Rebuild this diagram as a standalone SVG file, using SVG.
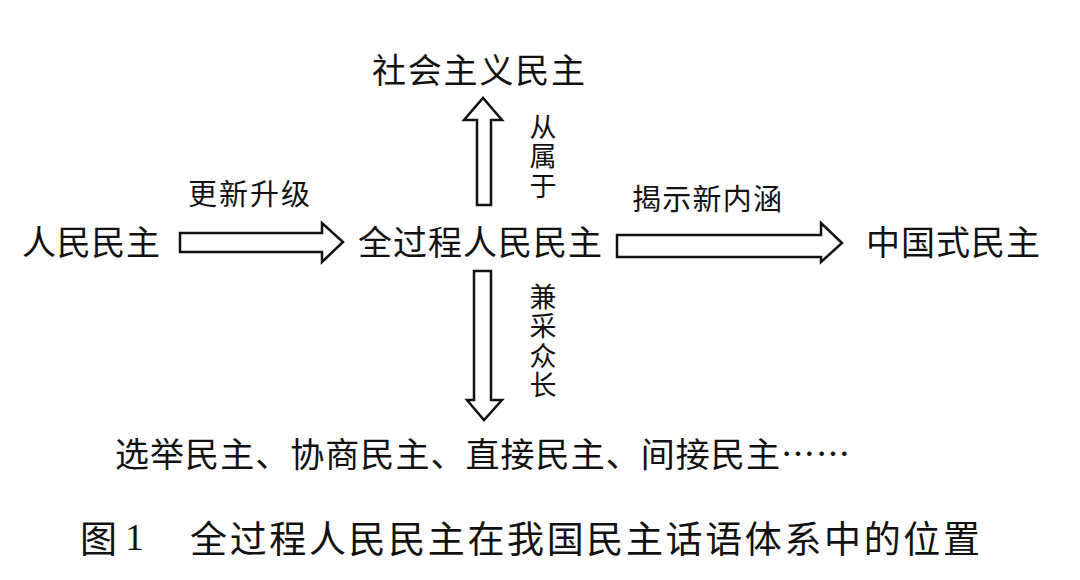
<svg xmlns="http://www.w3.org/2000/svg" width="1080" height="580" viewBox="0 0 1080 580">
<style>
text{font-family:"Noto Sans CJK SC","Noto Sans CJK TC",sans-serif;fill:#111;dominant-baseline:central}
.n{font-size:34px}
.l{font-size:29px}
.v{font-size:27px;writing-mode:vertical-rl;letter-spacing:2.5px}
.cap{font-size:37px}
.arr{fill:#fff;stroke:#111;stroke-width:2.5;stroke-linejoin:miter}
</style>
<rect width="1080" height="580" fill="#fff"/>
<g id="connectors">
<polygon class="arr" points="180,233 322,233 322,223 343,242 322,262 322,252 180,252"/>
<polygon class="arr" points="617,235 821,235 821,223 842,243 821,262 821,257 617,257"/>
<polygon class="arr" points="477,205 477,120 464,120 483,98 502,120 491,120 491,205"/>
<polygon class="arr" points="474,271 491,271 491,400 502,400 484,420 467,400 474,400"/>
<text class="l" x="188" y="192" textLength="122">更新升级</text>
<text class="l" x="632" y="197" textLength="150">揭示新内涵</text>
<text class="v" x="543" y="113">从属于</text>
<text class="v" x="543" y="283">兼采众长</text>
</g>
<g id="n1"><text class="n" x="22" y="240" textLength="138">人民民主</text></g>
<g id="n2"><text class="n" x="358" y="240" textLength="244">全过程人民民主</text></g>
<g id="n3"><text class="n" x="866" y="240" textLength="174">中国式民主</text></g>
<g id="n4"><text class="n" x="372" y="68" textLength="213">社会主义民主</text></g>
<g id="n5"><text class="n" x="115" y="452" textLength="735">选举民主、协商民主、直接民主、间接民主……</text></g>
<g id="caption"><text class="cap" x="80" y="537">图 <tspan font-family="Liberation Serif">1</tspan></text><text class="cap" x="190" y="537" textLength="790">全过程人民民主在我国民主话语体系中的位置</text></g>
</svg>
